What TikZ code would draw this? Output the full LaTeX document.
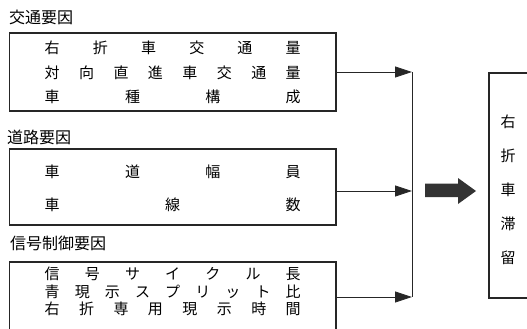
\documentclass[tikz,border=0pt]{standalone}
\usepackage{fontspec}
\newfontfamily\jp{Noto Sans CJK JP}
\usetikzlibrary{arrows.meta}
\tikzset{
  frame/.style={draw=black!85, line width=1.1pt, inner sep=0pt},
  grp/.style={font=\jp\fontsize{16}{16}\selectfont, anchor=west, inner sep=0pt},
  row/.style={font=\jp\fontsize{15}{15}\selectfont, anchor=west, inner sep=0pt},
  link/.style={draw=black!85, line width=0.8pt},
  feed/.style={link, -{Triangle[length=17pt,width=11pt]}},
}
\newcommand{\spread}[1]{\makebox[256pt][s]{#1}}
\newcommand{\hf}{\hfill}
\begin{document}
\begin{tikzpicture}[x=1pt,y=-1pt]
\useasboundingbox (0,0) rectangle (527,329);
\clip (0,0) rectangle (527,329);
% group labels
\node[grp] (l1) at (9,17) {交通要因};
\node[grp] (l2) at (7,137) {道路要因};
\node[grp] (l3) at (10,243) {信号制御要因};
% boxes
\node[frame, minimum width=326.5pt, minimum height=78pt] (b1) at (172.75,72) {};
\node[frame, minimum width=326.5pt, minimum height=76pt] (b2) at (172.75,187) {};
\node[frame, minimum width=326.5pt, minimum height=90pt] (b3) at (172.75,307) {};
% rows box 1
\node[row] (r11) at (44.5,48) {\spread{右\hf{}折\hf{}車\hf{}交\hf{}通\hf{}量}};
\node[row] (r12) at (44.5,73) {\spread{対\hf{}向\hf{}直\hf{}進\hf{}車\hf{}交\hf{}通\hf{}量}};
\node[row] (r13) at (44.5,97) {\spread{車\hf{}種\hf{}構\hf{}成}};
% rows box 2
\node[row] (r21) at (44.5,172) {\spread{車\hf{}道\hf{}幅\hf{}員}};
\node[row] (r22) at (44.5,205) {\spread{車\hf{}線\hf{}数}};
% rows box 3
\node[row] (r31) at (44.5,274) {\spread{信\hf{}号\hf{}サ\hf{}イ\hf{}ク\hf{}ル\hf{}長}};
\node[row] (r32) at (44.5,292) {\spread{青\hf{}現\hf{}示\hf{}ス\hf{}プ\hf{}リ\hf{}ッ\hf{}ト\hf{}比}};
\node[row] (r33) at (44.5,309) {\spread{右\hf{}折\hf{}専\hf{}用\hf{}現\hf{}示\hf{}時\hf{}間}};
% result box
\node[frame, minimum width=60pt, minimum height=225pt] (res) at (519,185.5) {};
\node[font=\jp\fontsize{15}{15}\selectfont, inner sep=0pt, align=center] (rt) at (508,190)
  {右\\[19pt]折\\[19pt]車\\[19pt]滞\\[19pt]留};
% junction
\coordinate (j1) at (412,72);
\coordinate (j2) at (412,191);
\coordinate (j3) at (412,297);
\draw[link] (j1) -- (j3);
\draw[feed] (b1.east |- j1) -- (j1);
\draw[feed] (b2.east |- j2) -- (j2);
\draw[feed] (b3.east |- j3) -- (j3);
% big arrow
\fill[black!80] (425,183.5) -- (458,183.5) -- (458,178) -- (476,191) -- (458,204) -- (458,197) -- (425,197) -- cycle;
\end{tikzpicture}
\end{document}
